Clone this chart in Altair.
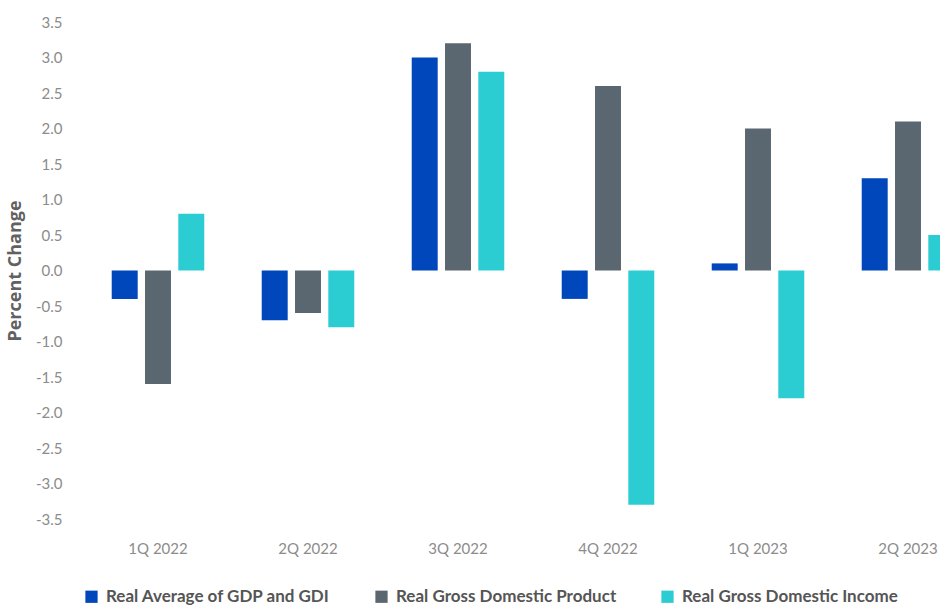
import altair as alt
import pandas as pd

quarters = ["1Q 2022", "2Q 2022", "3Q 2022", "4Q 2022", "1Q 2023", "2Q 2023"]
series = [
    "Real Average of GDP and GDI",
    "Real Gross Domestic Product",
    "Real Gross Domestic Income",
]
avg_gdp_gdi = [-0.4, -0.7, 3.0, -0.4, 0.1, 1.3]
real_gdp = [-1.6, -0.6, 3.2, 2.6, 2.0, 2.1]
real_gdi = [0.8, -0.8, 2.8, -3.3, -1.8, 0.5]
colors = ["#0047BB", "#5B6770", "#2CCCD3"]
y_ticks = [-3.5, -3.0, -2.5, -2.0, -1.5, -1.0, -0.5, 0.0, 0.5, 1.0, 1.5, 2.0, 2.5, 3.0, 3.5]

rows = []
for name, vals in zip(series, [avg_gdp_gdi, real_gdp, real_gdi]):
    for q, v in zip(quarters, vals):
        rows.append({"quarter": q, "series": name, "value": v})
df = pd.DataFrame(rows)

FONT = "Lato"

chart = (
    alt.Chart(df)
    .mark_bar(clip=True)
    .encode(
        x=alt.X(
            "quarter:N",
            sort=quarters,
            scale=alt.Scale(range=[0, 900], paddingInner=0.383, paddingOuter=0.1915),
            axis=alt.Axis(
                title=None,
                labelAngle=0,
                domain=False,
                ticks=False,
                labelPadding=22,
                labelFontSize=15,
                labelColor="#8c8c8c",
                labelFont=FONT,
                labelBound=False,
                labelOverlap=False,
            ),
        ),
        xOffset=alt.XOffset(
            "series:N", sort=series, scale=alt.Scale(paddingInner=0.22, paddingOuter=0)
        ),
        y=alt.Y(
            "value:Q",
            scale=alt.Scale(domain=[-3.5, 3.5], nice=False, zero=False),
            axis=alt.Axis(
                values=y_ticks,
                labelExpr="replace(format(datum.value, '.1f'), '\u2212', '-')",
                title="Percent Change",
                grid=False,
                domain=False,
                ticks=False,
                labelPadding=21,
                labelFontSize=15,
                labelColor="#8c8c8c",
                labelFont=FONT,
                titleFont="Open Sans",
                titleFontSize=18,
                titleFontWeight="bold",
                titleColor="#616161",
                titlePadding=11,
            ),
        ),
        color=alt.Color(
            "series:N",
            sort=series,
            scale=alt.Scale(domain=series, range=colors),
            legend=alt.Legend(
                title=None,
                orient="none",
                legendX=0,
                legendY=566,
                direction="horizontal",
                symbolType="square",
                symbolSize=150,
                symbolStrokeWidth=0,
                symbolOffset=0,
                labelOffset=6,
                labelFontSize=17,
                labelFontWeight="bold",
                labelColor="#555555",
                labelFont=FONT,
                labelLimit=0,
                columnPadding=42,
            ),
        ),
    )
    .properties(
        width=857,
        height=497,
        autosize=alt.AutoSizeParams(type="none"),
        padding={"left": 83, "top": 22, "right": 0, "bottom": 87},
        background="white",
    )
    .configure_view(stroke=None)
)

chart.save("out.html", embed_options={"renderer": "svg", "actions": False})
